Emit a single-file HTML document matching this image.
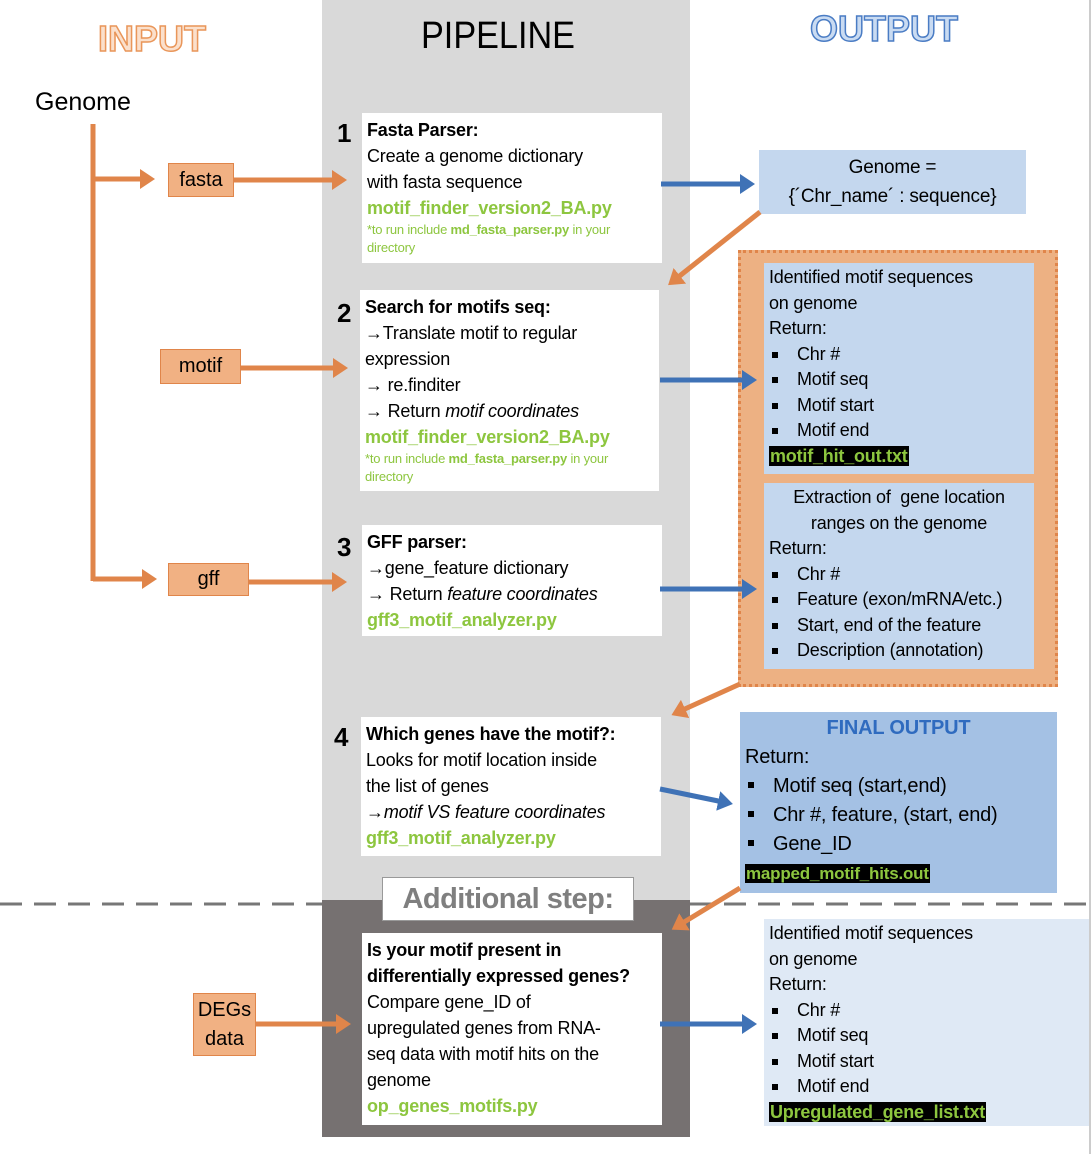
<!DOCTYPE html>
<html><head><meta charset="utf-8"><style>
body{margin:0;width:1092px;height:1154px;position:relative;background:#fff;font-family:"Liberation Sans",sans-serif;overflow:hidden;color:#000}
.a{position:absolute}
.box{position:absolute;background:#fff;box-sizing:border-box;padding:4px 5px;font-size:18px;line-height:26px;letter-spacing:-0.2px;white-space:nowrap}
.g{color:#8dc63f;font-weight:bold}
.sm{font-size:13px;line-height:18px;color:#8dc63f}
.num{position:absolute;font-size:26px;font-weight:bold}
.in{position:absolute;background:#f1b183;border:1px solid #e0854a;box-sizing:border-box;font-size:20px;text-align:center}
.ob{position:absolute;background:#c4d7ee;box-sizing:border-box;padding:2px 5px;font-size:18px;line-height:25.5px;letter-spacing:-0.2px;white-space:nowrap}
.li{padding-left:28px;position:relative}
.li:before{content:"";position:absolute;left:3px;top:10px;width:6px;height:6px;background:#000}
.hl{background:#000;color:#8dc63f;font-weight:bold;padding:0 1px}
</style></head><body>
<div class="a" style="left:322px;top:0;width:368px;height:900px;background:#d9d9d9"></div>
<div class="a" style="left:322px;top:900px;width:368px;height:237px;background:#767171"></div>
<div class="a" style="left:1089px;top:0;width:2px;height:1154px;background:#ccc"></div>

<div class="a" style="left:98px;top:18px;font-size:36px;font-weight:bold;color:#fbe0cc;-webkit-text-stroke:1.5px #e9965a">INPUT</div>
<div class="a" style="left:421px;top:15px;font-size:38px;transform:scaleX(0.9);transform-origin:left">PIPELINE</div>
<div class="a" style="left:810px;top:8px;font-size:36px;font-weight:bold;color:#c9dbf2;-webkit-text-stroke:1.5px #4a7cc4">OUTPUT</div>
<div class="a" style="left:35px;top:88px;font-size:25px">Genome</div>

<div class="in" style="left:168px;top:163px;width:66px;height:34px;line-height:32px">fasta</div>
<div class="in" style="left:160px;top:349px;width:81px;height:35px;line-height:33px">motif</div>
<div class="in" style="left:168px;top:563px;width:81px;height:33px;line-height:31px">gff</div>
<div class="in" style="left:193px;top:993px;width:63px;height:63px;line-height:29px;padding-top:2px">DEGs<br>data</div>

<div class="num" style="left:337px;top:118px">1</div>
<div class="box" style="left:362px;top:113px;width:300px;height:150px">
<b>Fasta Parser:</b><br>Create a genome dictionary<br>with fasta sequence<br><span class="g">motif_finder_version2_BA.py</span><div class="sm">*to run include <b>md_fasta_parser.py</b> in your<br>directory</div></div>

<div class="num" style="left:337px;top:298px">2</div>
<div class="box" style="left:360px;top:290px;width:299px;height:201px">
<b>Search for motifs seq:</b><br>→Translate motif to regular<br>expression<br>→ re.finditer<br>→ Return <i>motif coordinates</i><br><span class="g">motif_finder_version2_BA.py</span><div class="sm">*to run include <b>md_fasta_parser.py</b> in your<br>directory</div></div>

<div class="num" style="left:337px;top:532px">3</div>
<div class="box" style="left:362px;top:525px;width:300px;height:111px">
<b>GFF parser:</b><br>→gene_feature dictionary<br>→ Return <i>feature coordinates</i><br><span class="g">gff3_motif_analyzer.py</span></div>

<div class="num" style="left:334px;top:722px">4</div>
<div class="box" style="left:361px;top:717px;width:300px;height:139px">
<b>Which genes have the motif?:</b><br>Looks for motif location inside<br>the list of genes<br>→<i>motif VS feature coordinates</i><br><span class="g">gff3_motif_analyzer.py</span></div>

<div class="a" style="left:382px;top:877px;width:252px;height:44px;background:#fff;border:1px solid #999;box-sizing:border-box;font-size:29px;font-weight:bold;color:#7f7f7f;text-align:center;line-height:42px;letter-spacing:-0.5px">Additional step:</div>

<div class="box" style="left:362px;top:933px;width:300px;height:192px">
<b>Is your motif present in<br>differentially expressed genes?</b><br>Compare gene_ID of<br>upregulated genes from RNA-<br>seq data with motif hits on the<br>genome<br><span class="g">op_genes_motifs.py</span></div>

<div class="ob" style="left:759px;top:150px;width:267px;height:64px;text-align:center;font-size:19px;line-height:29px;padding-top:3px">Genome =<br>{´Chr_name´ : sequence}</div>

<div class="a" style="left:738px;top:250px;width:320px;height:437px;background:#edb183;border:3px dotted #e0854a;box-sizing:border-box"></div>
<div class="ob" style="left:764px;top:263px;width:270px;height:211px">Identified motif sequences<br>on genome<br>Return:<div class="li">Chr #</div><div class="li">Motif seq</div><div class="li">Motif start</div><div class="li">Motif end</div><span class="hl">motif_hit_out.txt</span></div>
<div class="ob" style="left:764px;top:483px;width:270px;height:186px"><div style="text-align:center">Extraction of &nbsp;gene location<br>ranges on the genome</div>Return:<div class="li">Chr #</div><div class="li">Feature (exon/mRNA/etc.)</div><div class="li">Start, end of the feature</div><div class="li">Description (annotation)</div></div>

<div class="ob" style="left:740px;top:712px;width:317px;height:181px;background:#a4c1e4;font-size:20px;line-height:29px">
<div style="text-align:center;color:#2f6bbf;font-weight:bold;font-size:20px">FINAL OUTPUT</div>Return:<div class="li">Motif seq (start,end)</div><div class="li">Chr #, feature, (start, end)</div><div class="li">Gene_ID</div><span class="hl" style="font-size:17px">mapped_motif_hits.out</span></div>

<div class="ob" style="left:764px;top:919px;width:325px;height:207px;background:#dfe9f5">Identified motif sequences<br>on genome<br>Return:<div class="li">Chr #</div><div class="li">Motif seq</div><div class="li">Motif start</div><div class="li">Motif end</div><span class="hl">Upregulated_gene_list.txt</span></div>

<svg class="a" style="left:0;top:0" width="1092" height="1154">
<defs>
<marker id="o" markerWidth="4" markerHeight="4" refX="2" refY="2" orient="auto" markerUnits="strokeWidth"><path d="M0,0L3,2L0,4z" fill="#e0854a"/></marker>
<marker id="b" markerWidth="4" markerHeight="4" refX="2" refY="2" orient="auto" markerUnits="strokeWidth"><path d="M0,0L3,2L0,4z" fill="#3f72b6"/></marker>
</defs>
<path d="M0,904H322M690,904H1092" stroke="#777" stroke-width="3" stroke-dasharray="22,12"/>
<g stroke="#e0854a" stroke-width="5" fill="none">
<path d="M93,124V581"/>
<path d="M93,179H150" marker-end="url(#o)"/>
<path d="M233,180H342" marker-end="url(#o)"/>
<path d="M240,368H343" marker-end="url(#o)"/>
<path d="M93,579H152" marker-end="url(#o)"/>
<path d="M248,582H342" marker-end="url(#o)"/>
<path d="M255,1024H346" marker-end="url(#o)"/>
<path d="M760,212L672,282" marker-end="url(#o)"/>
<path d="M740,684L676,713" marker-end="url(#o)"/>
<path d="M740,888L676,927" marker-end="url(#o)"/>
</g>
<g stroke="#3f72b6" stroke-width="5" fill="none">
<path d="M661,184H750" marker-end="url(#b)"/>
<path d="M660,380H752" marker-end="url(#b)"/>
<path d="M660,589H752" marker-end="url(#b)"/>
<path d="M660,789L728,803" marker-end="url(#b)"/>
<path d="M660,1024H752" marker-end="url(#b)"/>
</g>
</svg>
</body></html>
